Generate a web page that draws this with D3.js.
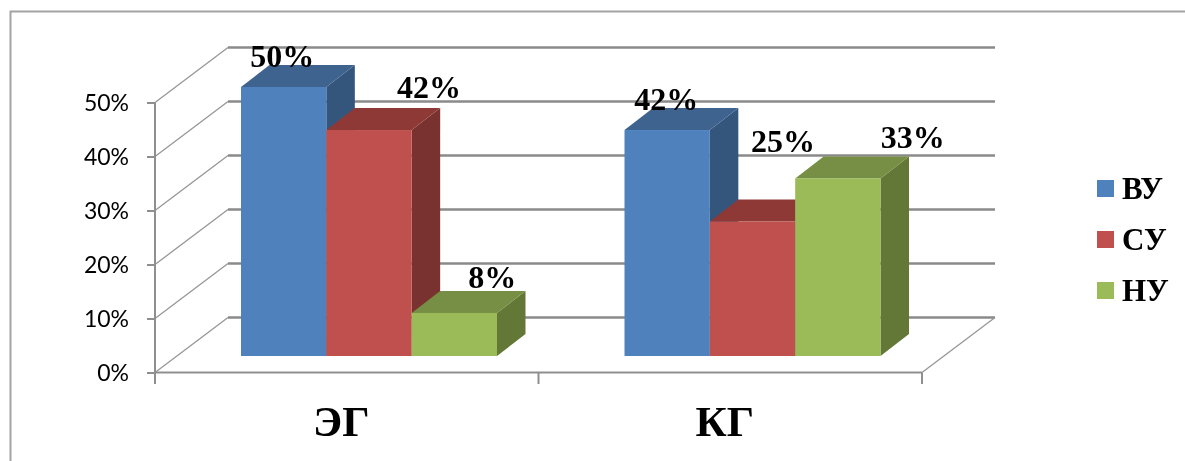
<!DOCTYPE html>
<html><head><meta charset="utf-8">
<script src="https://cdn.jsdelivr.net/npm/d3@7"></script>
<style>html,body{margin:0;padding:0;background:#fff}svg{display:block;filter:blur(0.35px)}</style>
</head><body><svg id="c" width="1185" height="461"></svg>
<script>
const categories = ["ЭГ", "КГ"];
const seriesNames = ["ВУ", "СУ", "НУ"];
const seriesVU = [50, 42];
const seriesSU = [42, 25];
const seriesNU = [8, 33];
const yTicks = [0, 10, 20, 30, 40, 50];
const colorsFront = ["#4f81bd", "#c0504d", "#9bbb59"];
const colorsTop = ["#3f638f", "#8f3937", "#778f44"];
const colorsSide = ["#34557c", "#7a3230", "#637837"];
// label nudges, as manually placed in the source chart [series][category]
const labelDx = [[-1.5, -1], [60, 30.5], [38, 75]];
const labelDy = [[-20, -20], [-32, -70], [-25, -30]];

const svg = d3.select("#c");
const values = [seriesVU, seriesSU, seriesNU];
const grid = "#8a8a8a", axisCol = "#8f8f8f";
const depthX = 73, depthY = 55, barDX = 28.5, barDY = 22;

svg.append("path").attr("d", "M10.5 461V11.5H1185").attr("fill", "none").attr("stroke", "#a3a3a3").attr("stroke-width", 2);

const x0 = d3.scaleBand().domain(categories).range([155, 922]);
const x1 = d3.scaleBand().domain(seriesNames).range([0, 256]);
const groupInset = 86;
const yFront = d3.scaleLinear().domain([0, 50]).range([372.5, 102.5]);
const yBar = d3.scaleLinear().domain([0, 50]).range([356, 87]);

// walls
const back = svg.append("g");
yTicks.forEach(t => {
  const y = yFront(t);
  back.append("line").attr("x1", 155).attr("y1", y).attr("x2", 155 + depthX).attr("y2", y - depthY)
    .attr("stroke", "#969696").attr("stroke-width", 1.3);
  back.append("line").attr("x1", 155 + depthX).attr("y1", y - depthY).attr("x2", 922 + depthX).attr("y2", y - depthY)
    .attr("stroke", grid).attr("stroke-width", 2.4);
});
back.append("line").attr("x1", 922).attr("y1", yFront(0)).attr("x2", 922 + depthX).attr("y2", yFront(0) - depthY)
  .attr("stroke", "#969696").attr("stroke-width", 1.3);

// y axis
const yAxis = svg.append("g").attr("transform", "translate(155,0)")
  .call(d3.axisLeft(yFront).tickValues(yTicks).tickFormat(d => d + "%").tickSize(8).tickPadding(18));
yAxis.selectAll("path").attr("d", "M0 102.5V384").attr("stroke", axisCol).attr("stroke-width", 2);
yAxis.selectAll("line").attr("stroke", axisCol).attr("stroke-width", 2);
yAxis.selectAll("text").attr("font-family", "Lato").attr("font-size", 23).attr("fill", "#000").attr("dy", "0.36em");

// x axis
svg.append("line").attr("x1", 155).attr("x2", 922).attr("y1", yFront(0)).attr("y2", yFront(0)).attr("stroke", axisCol).attr("stroke-width", 2);
[155, 538.5, 922].forEach(x => svg.append("line").attr("x1", x).attr("x2", x).attr("y1", yFront(0)).attr("y2", 384).attr("stroke", axisCol).attr("stroke-width", 2));
const xAxis = svg.append("g").attr("transform", "translate(-5.5,373)")
  .call(d3.axisBottom(x0).tickSize(0).tickPadding(0));
xAxis.select("path").remove();
xAxis.selectAll("text").attr("font-family", "Liberation Serif").attr("font-weight", "bold").attr("font-size", 43).attr("fill", "#000").attr("dy", "63px");

// bars
categories.forEach((c, ci) => {
  seriesNames.forEach((s, si) => {
    const v = values[si][ci];
    const xl = x0(c) + groupInset + x1(s), xr = xl + x1.bandwidth();
    const yt = yBar(v), yb = yBar(0);
    const g = svg.append("g");
    g.append("path").attr("fill", colorsSide[si])
      .attr("d", d3.line()([[xr, yb], [xr + barDX, yb - barDY], [xr + barDX, yt - barDY], [xr, yt]]) + "Z");
    g.append("path").attr("fill", colorsTop[si])
      .attr("d", d3.line()([[xl, yt], [xl + barDX, yt - barDY], [xr + barDX, yt - barDY], [xr, yt]]) + "Z");
    g.append("rect").attr("x", xl).attr("y", yt).attr("width", x1.bandwidth()).attr("height", yb - yt).attr("fill", colorsFront[si]);
  });
});

// data labels
categories.forEach((c, ci) => {
  seriesNames.forEach((s, si) => {
    const v = values[si][ci];
    const xc = x0(c) + groupInset + x1(s) + x1.bandwidth() / 2;
    svg.append("text").attr("x", xc + labelDx[si][ci]).attr("y", yBar(v) + labelDy[si][ci])
      .attr("text-anchor", "middle").attr("font-family", "Liberation Serif").attr("font-weight", "bold")
      .attr("font-size", 32).attr("fill", "#000").text(v + "%");
  });
});

// legend
const legend = svg.append("g");
seriesNames.forEach((s, i) => {
  const y = 180 + i * 51;
  legend.append("rect").attr("x", 1097).attr("y", y).attr("width", 17).attr("height", 17).attr("fill", colorsFront[i]);
  legend.append("text").attr("x", 1122).attr("y", y + 19).attr("font-family", "Liberation Serif").attr("font-weight", "bold")
    .attr("font-size", 31).attr("fill", "#000").text(s);
});
</script></body></html>
